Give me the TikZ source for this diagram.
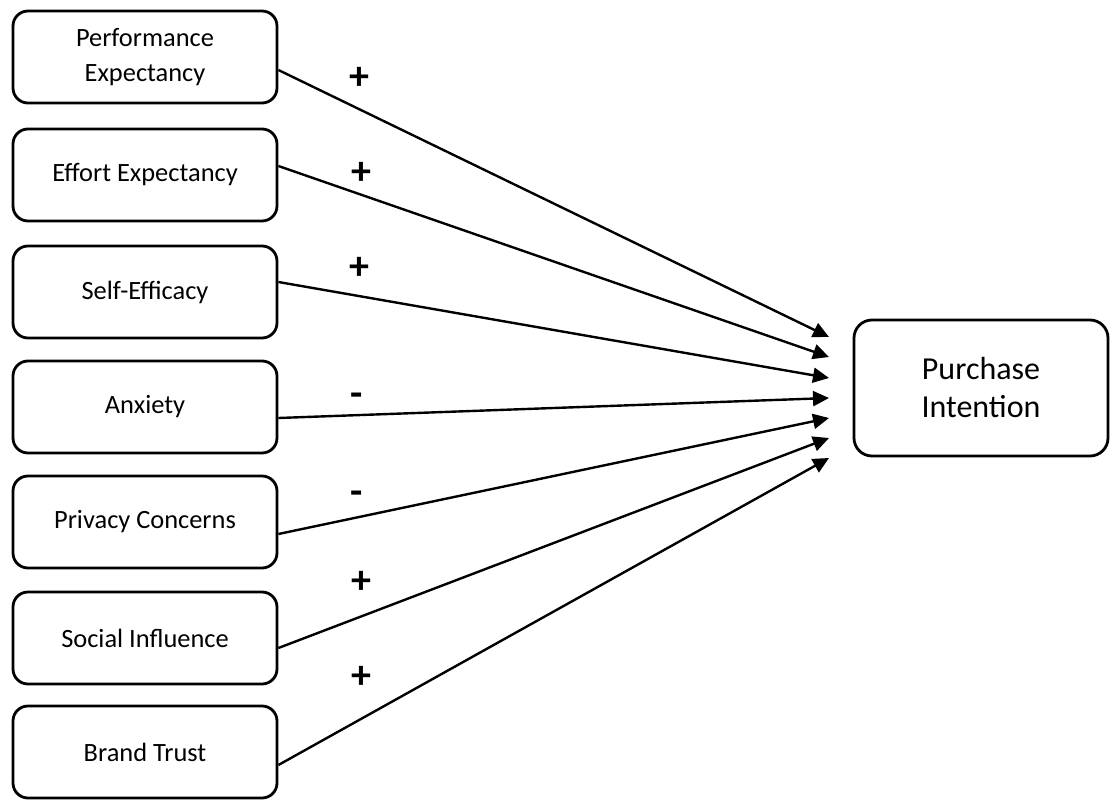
\documentclass[tikz,border=0pt]{standalone}
\usepackage{fontspec}
\setmainfont{Carlito}
\usetikzlibrary{arrows.meta}
\begin{document}
\begin{tikzpicture}[x=1pt,y=-1pt,
  box/.style={draw=black,line width=2.8pt,rounded corners=15pt,minimum width=264pt,minimum height=92pt,align=center,inner sep=0pt,font=\fontsize{26.4}{35}\selectfont},
  bigbox/.style={draw=black,line width=2.8pt,rounded corners=18pt,minimum width=254pt,minimum height=136pt,align=center,inner sep=0pt,font=\fontsize{32}{38}\selectfont},
  conn/.style={line width=2.4pt,-{Triangle[length=16pt,width=15pt]}},
  sign/.style={font=\fontsize{40}{40}\selectfont\bfseries,inner sep=0pt}]
\useasboundingbox (0,0) rectangle (1110,800);
\node[box] (n1) at (145,57) {Performance\\Expectancy};
\node[box] (n2) at (145,175) {Effort Expectancy};
\node[box] (n3) at (145,292) {Self-Efficacy};
\node[box] (n4) at (145,407) {Anxiety};
\node[box] (n5) at (145,522) {Privacy Concerns};
\node[box] (n6) at (145,638) {Social Influence};
\node[box] (n7) at (145,752) {Brand Trust};
\node[bigbox] (pi) at (981,388) {Purchase\\Intention};
\coordinate (t1) at (829,337);
\coordinate (t2) at (829,357);
\coordinate (t3) at (829,378);
\coordinate (t4) at (829,398);
\coordinate (t5) at (829,418);
\coordinate (t6) at (829,438);
\coordinate (t7) at (829,458);
\draw[conn] ([yshift=-13pt]n1.east) -- (t1);
\draw[conn] ([yshift=9pt]n2.east) -- (t2);
\draw[conn] ([yshift=10pt]n3.east) -- (t3);
\draw[conn] ([yshift=-11pt]n4.east) -- (t4);
\draw[conn] ([yshift=-12pt]n5.east) -- (t5);
\draw[conn] ([yshift=-10pt]n6.east) -- (t6);
\draw[conn] ([yshift=-13pt]n7.east) -- (t7);
\node[sign] (s1) at (359,78) {+};
\node[sign] (s2) at (361,173) {+};
\node[sign] (s3) at (359,268) {+};
\node[sign] (s4) at (357,400) {-};
\node[sign] (s5) at (357,498) {-};
\node[sign] (s6) at (361,582) {+};
\node[sign] (s7) at (361,677) {+};
\end{tikzpicture}
\end{document}
